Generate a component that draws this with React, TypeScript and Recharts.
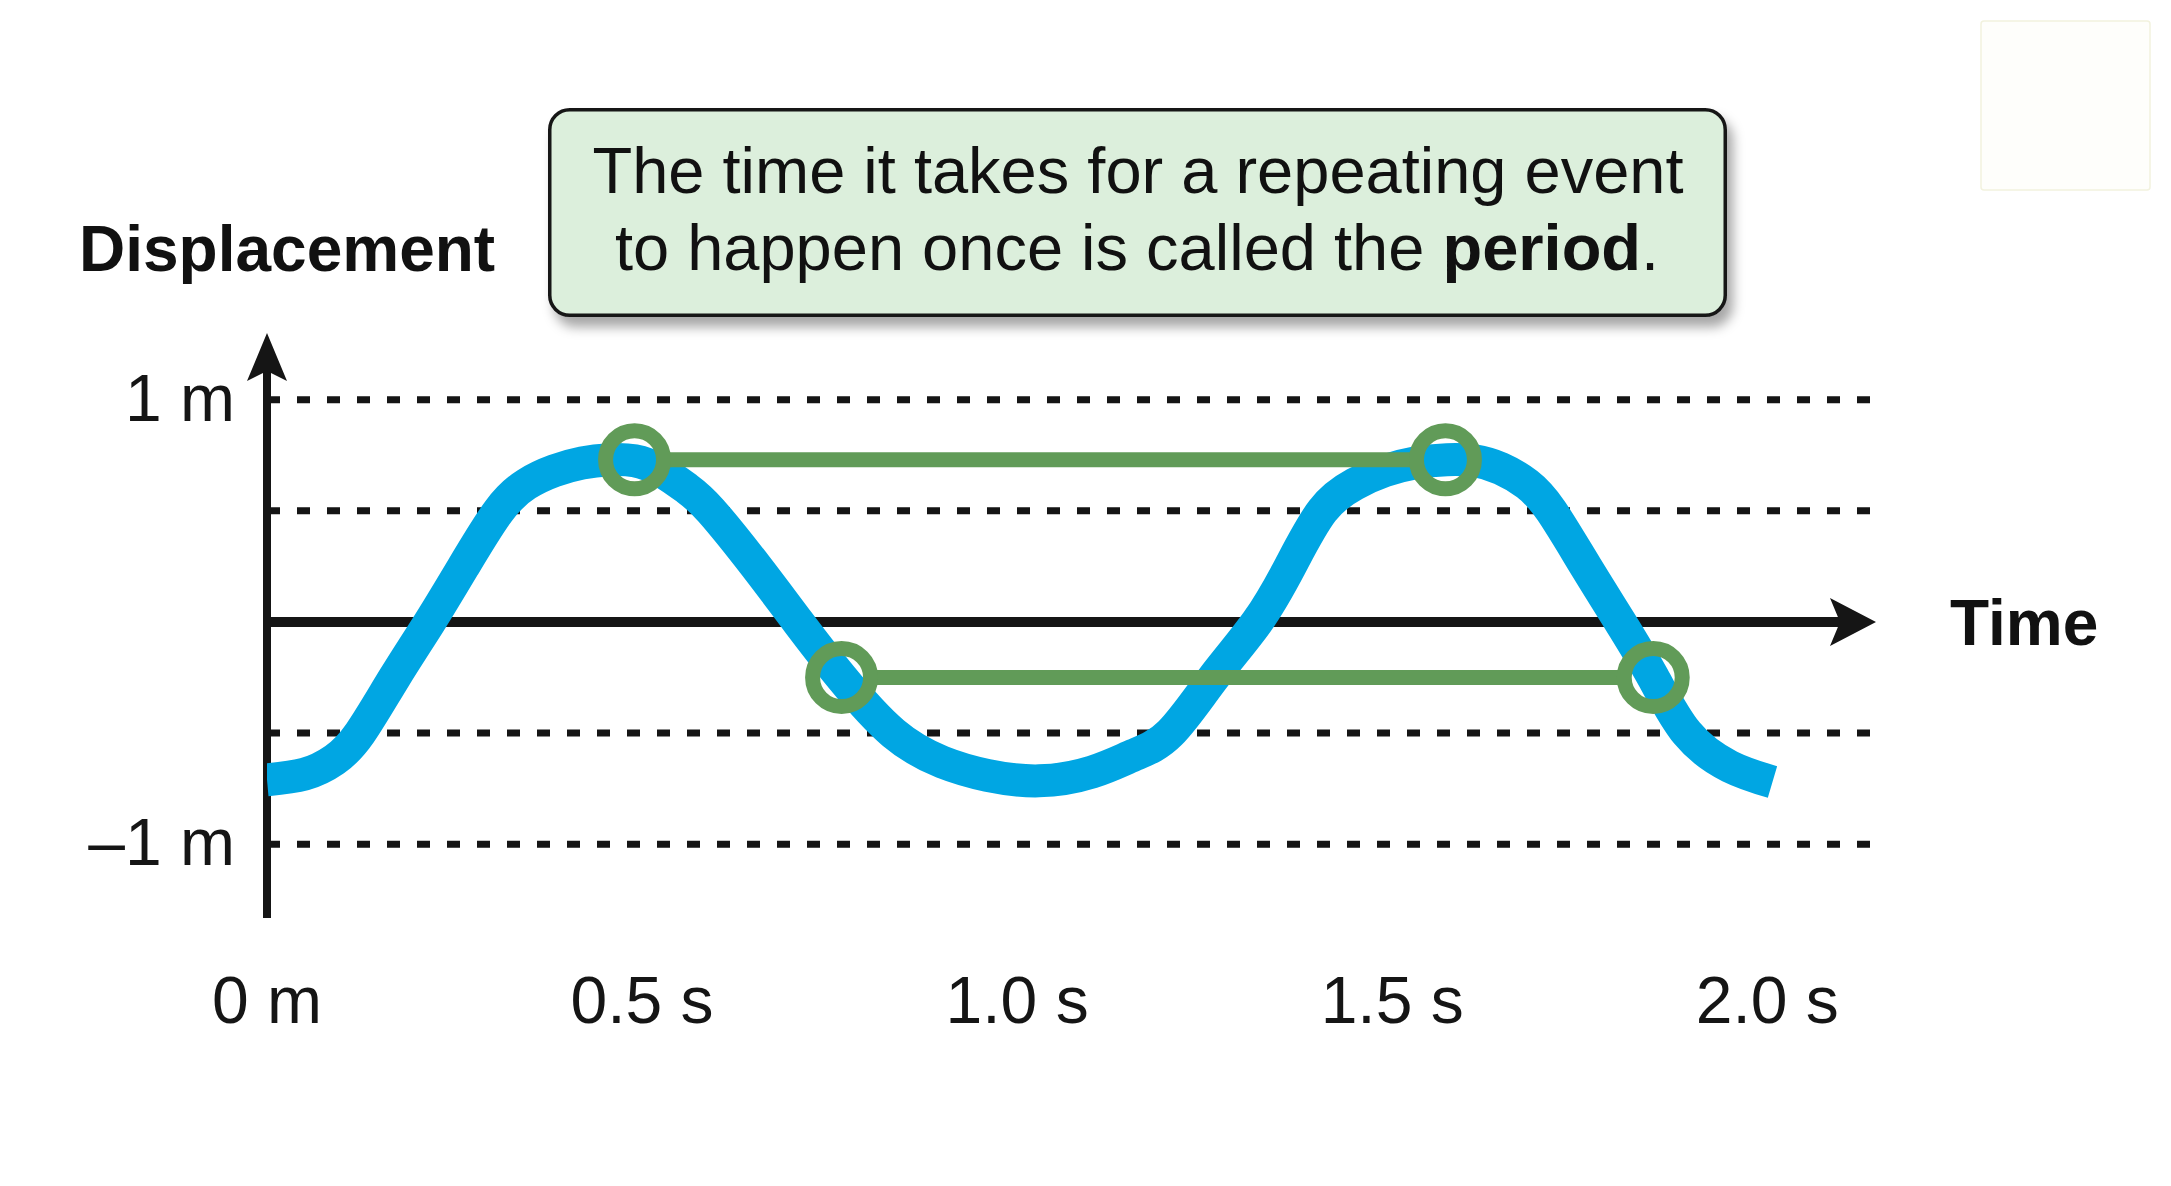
import React from 'react';
import { ComposedChart, Line, Scatter, XAxis, YAxis, ReferenceLine } from 'recharts';

const FONT = '"Liberation Sans", Arial, Helvetica, sans-serif';
const INK = '#151515';
const BLUE = '#00a6e3';
const GREEN = '#619b58';
const RING_R = 29;

// displacement wave (time in s, displacement in m)
const waveTimes = [0, 0.05, 0.09, 0.124, 0.17, 0.217, 0.262, 0.309, 0.346, 0.383, 0.42, 0.456, 0.49, 0.525, 0.56, 0.592, 0.652, 0.708, 0.766, 0.835, 0.9, 0.96, 1.029, 1.1, 1.155, 1.204, 1.262, 1.32, 1.364, 1.407, 1.45, 1.49, 1.53, 1.573, 1.61, 1.645, 1.68, 1.712, 1.758, 1.804, 1.848, 1.893, 1.95, 2.007];
const waveValues = [-0.71, -0.685, -0.62, -0.5, -0.25, 0, 0.25, 0.5, 0.62, 0.68, 0.715, 0.73, 0.725, 0.68, 0.6, 0.5, 0.25, 0, -0.25, -0.5, -0.63, -0.69, -0.715, -0.675, -0.6, -0.5, -0.25, 0, 0.25, 0.5, 0.62, 0.68, 0.715, 0.73, 0.725, 0.69, 0.62, 0.5, 0.25, 0, -0.25, -0.5, -0.65, -0.72];

// matching points one period apart
const ringTimes = [0.49, 1.571, 0.766, 1.848];
const ringValues = [0.73, 0.73, -0.25, -0.25];
const periodPairs = [[0, 1], [2, 3]];

const dottedValues = [1, 0.5, -0.5, -1];
const xTickValues = [0, 0.5, 1, 1.5, 2];
const xTickLabels = ['0 m', '0.5 s', '1.0 s', '1.5 s', '2.0 s'];
const yTickValues = [-1, 1];
const yTickLabels = ['\u20131 m', '1 m'];

const waveData = waveTimes.map((t, i) => ({ t, d: waveValues[i] }));
const ringData = ringTimes.map((t, i) => ({ t, d: ringValues[i] }));

const XTick = (props: any) => {
  const { x, y, payload } = props;
  const i = xTickValues.indexOf(payload.value);
  return (
    <text x={x} y={y + 101} textAnchor="middle" fontSize={66} fontFamily={FONT} fill={INK}>
      {xTickLabels[i]}
    </text>
  );
};

const YTick = (props: any) => {
  const { x, y, payload } = props;
  const i = yTickValues.indexOf(payload.value);
  if (i < 0) return null;
  return (
    <text x={x - 32} y={y + 21} textAnchor="end" fontSize={66} fontFamily={FONT} fill={INK}>
      {yTickLabels[i]}
    </text>
  );
};

const TimeArrow = (props: any) => {
  const { x1, x2, y1 } = props;
  const left = Math.min(x1, x2);
  const tip = Math.max(x1, x2);
  return (
    <g>
      <line x1={left} y1={y1} x2={tip - 30} y2={y1} stroke={INK} strokeWidth={10} />
      <path d={`M${tip},${y1} L${tip - 46},${y1 - 24} L${tip - 36},${y1} L${tip - 46},${y1 + 24} Z`} fill={INK} />
    </g>
  );
};

const DisplacementArrow = (props: any) => {
  const { x1, y1, y2 } = props;
  const top = Math.min(y1, y2);
  const bottom = Math.max(y1, y2);
  return (
    <g>
      <line x1={x1} y1={top + 30} x2={x1} y2={bottom - 4} stroke={INK} strokeWidth={8} />
      <path d={`M${x1},${top} L${x1 - 20},${top + 48} L${x1},${top + 38} L${x1 + 20},${top + 48} Z`} fill={INK} />
    </g>
  );
};

const Connector = (props: any) => {
  const { x1, x2, y1 } = props;
  const a = Math.min(x1, x2) + RING_R;
  const b = Math.max(x1, x2) - RING_R;
  return <line x1={a} y1={y1} x2={b} y2={y1} stroke={GREEN} strokeWidth={15} />;
};

const Ring = (props: any) => (
  <circle cx={props.cx} cy={props.cy} r={RING_R} fill="none" stroke={GREEN} strokeWidth={15} />
);

export default function App() {
  return (
    <div style={{ position: 'absolute', left: 0, top: 0, width: 2171, height: 1186, background: '#fff', fontFamily: FONT }}>
      <ComposedChart width={2171} height={1186} margin={{ top: 333, right: 295, bottom: 144, left: 187 }}>
        <XAxis
          type="number"
          dataKey="t"
          domain={[0, 2.145]}
          ticks={xTickValues}
          interval={0}
          allowDataOverflow
          height={120}
          axisLine={false}
          tickLine={false}
          tickSize={0}
          tickMargin={0}
          tick={<XTick />}
        />
        <YAxis
          type="number"
          domain={[-1.35, 1.3]}
          ticks={yTickValues}
          interval={0}
          allowDataOverflow
          width={80}
          axisLine={false}
          tickLine={false}
          tickSize={0}
          tickMargin={0}
          tick={<YTick />}
        />
        {dottedValues.map((v) => (
          <ReferenceLine key={v} y={v} stroke={INK} strokeWidth={7} strokeDasharray="13 17" />
        ))}
        <ReferenceLine y={0} shape={TimeArrow} />
        <ReferenceLine x={0} shape={DisplacementArrow} />
        <Line
          data={waveData}
          dataKey="d"
          type="natural"
          stroke={BLUE}
          strokeWidth={33}
          dot={false}
          activeDot={false}
          isAnimationActive={false}
        />
        {periodPairs.map(([a, b], i) => (
          <ReferenceLine
            key={i}
            segment={[{ x: ringTimes[a], y: ringValues[a] }, { x: ringTimes[b], y: ringValues[b] }]}
            shape={Connector}
          />
        ))}
        <Scatter data={ringData} dataKey="d" shape={Ring} isAnimationActive={false} />
      </ComposedChart>

      <svg width={2171} height={1186} style={{ position: 'absolute', left: 0, top: 0, pointerEvents: 'none' }}>
        <defs>
          <filter id="boxShadow" x="-5%" y="-20%" width="112%" height="150%">
            <feDropShadow dx="6" dy="10" stdDeviation="6" floodColor="#000" floodOpacity="0.35" />
          </filter>
        </defs>
        <rect x={1981} y={21} width={169} height={169} rx={3} fill="#fefefb" stroke="#f2f2de" strokeWidth={1.5} />
        <rect x={549.75} y={109.75} width={1175.5} height={205.5} rx={20} fill="#dcefdc" stroke={INK} strokeWidth={3.5} filter="url(#boxShadow)" />
        <g fontFamily={FONT} fill="#111">
          <text x={1138} y={193} textAnchor="middle" fontSize={65}>The time it takes for a repeating event</text>
          <text x={1137} y={270} textAnchor="middle" fontSize={65}>
            to happen once is called the <tspan fontWeight="bold">period</tspan>.
          </text>
          <text x={79} y={271} fontSize={64} fontWeight="bold">Displacement</text>
          <text x={1950} y={645} fontSize={64} fontWeight="bold">Time</text>
        </g>
      </svg>
    </div>
  );
}
